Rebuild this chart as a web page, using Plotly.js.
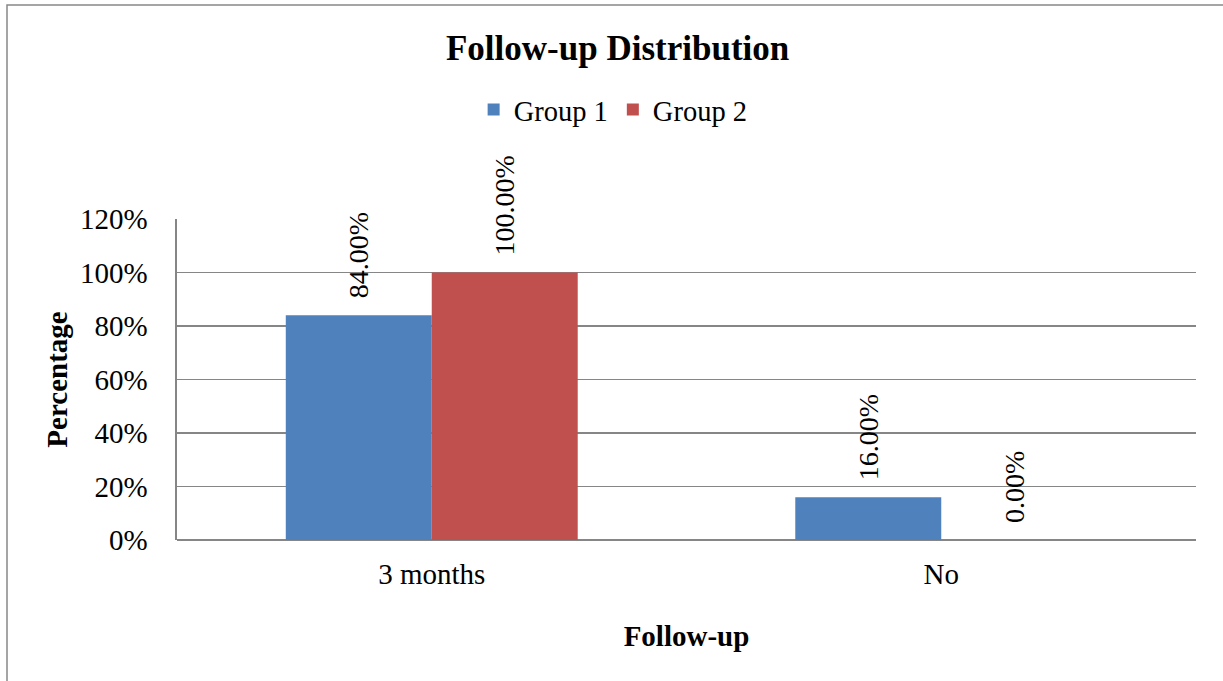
<!DOCTYPE html>
<html>
<head>
<meta charset="utf-8">
<script src="https://cdn.plot.ly/plotly-3.0.1.min.js"></script>
<style>html,body{margin:0;padding:0;background:#fff;overflow:hidden}#chart{width:1223px;height:681px}</style>
</head>
<body>
<div id="chart"></div>
<script>
var categories = ["3 months", "No"];
var seriesNames = ["Group 1", "Group 2"];
var group1 = [0.84, 0.16];
var group2 = [1.00, 0.00];
var colors = ["#4F81BD", "#C0504D"];
var FONT = "Liberation Serif, Times New Roman, serif";

function mk(name, vals, color) {
  return {
    type: "bar", name: name, x: categories, y: vals,
    marker: {color: color},
    texttemplate: "\u00a0\u00a0%{y:.2%}", textposition: "outside", textangle: -90,
    textfont: {family: FONT, size: 28, color: "#000"},
    cliponaxis: false, hoverinfo: "skip"
  };
}
var data = [mk(seriesNames[0], group1, colors[0]), mk(seriesNames[1], group2, colors[1])];

var layout = {
  width: 1223, height: 681,
  margin: {l: 177, r: 27, t: 219, b: 141},
  paper_bgcolor: "#fff", plot_bgcolor: "#fff",
  font: {family: FONT, color: "#000"},
  title: {text: "<b>Follow-up Distribution</b>", font: {family: FONT, size: 35, color: "#000"},
          x: 0.505, xanchor: "center", y: 0.93, yanchor: "middle"},
  showlegend: true,
  legend: {orientation: "h", x: 0.428, xanchor: "center", y: 1.34, yanchor: "middle",
           font: {family: FONT, size: 28.5, color: "#000"}, itemwidth: 30, traceorder: "normal"},
  barmode: "group", bargap: 0.427, bargroupgap: 0,
  xaxis: {
    title: {text: "<b>Follow-up</b>", font: {family: FONT, size: 29, color: "#000"}, standoff: 36},
    tickfont: {family: FONT, size: 29, color: "#000"},
    showline: false, showgrid: false, zeroline: false, ticks: "", ticklabelstandoff: 14
  },
  yaxis: {
    title: {text: "<b>Percentage</b>", font: {family: FONT, size: 29, color: "#000"}, standoff: 4},
    range: [0, 1.2], dtick: 0.2, tickformat: ".0%",
    tickfont: {family: FONT, size: 29, color: "#000"},
    showgrid: true, gridcolor: "#868686", gridwidth: 1.6,
    zeroline: true, zerolinecolor: "#868686", zerolinewidth: 1.6,
    showline: true, linecolor: "#868686", linewidth: 1.6,
    ticks: "", ticklabelstandoff: 22
  },
  shapes: [{type: "rect", xref: "paper", yref: "paper",
            x0: (7 - 177) / 1019, x1: 1.2, y0: -1, y1: (540 - 5) / 321,
            line: {color: "#888", width: 1.5}, fillcolor: "rgba(0,0,0,0)", layer: "below"}]
};
Plotly.newPlot("chart", data, layout, {displayModeBar: false, staticPlot: true});
</script>
</body>
</html>
